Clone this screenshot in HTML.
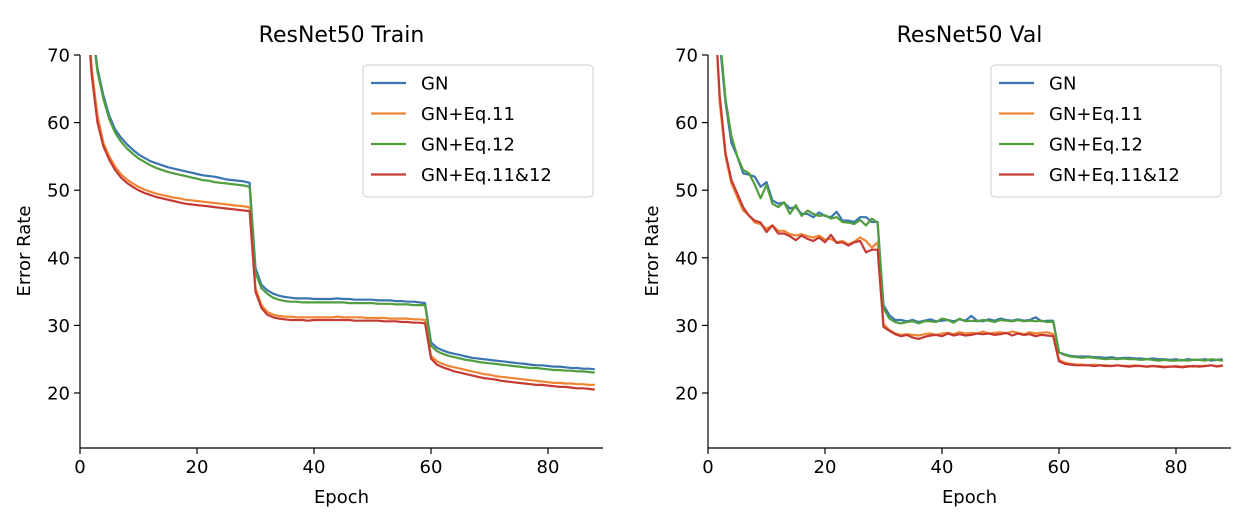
<!DOCTYPE html>
<html><head><meta charset="utf-8"><style>
body{margin:0;background:#fff;width:1242px;height:520px;overflow:hidden}
svg{font-family:"DejaVu Sans","Liberation Sans",sans-serif}
</style></head><body>
<svg id="chart" width="1242" height="520" xmlns="http://www.w3.org/2000/svg"></svg>
<script>
const epochs = Array.from({length:88},(_,i)=>i+1);
const xTicks = [0,20,40,60,80];
const yTicks = [20,30,40,50,60,70];
const seriesNames = ["GN","GN+Eq.11","GN+Eq.12","GN+Eq.11&12"];
const colors = ["#3b75af","#ef8636","#519e3e","#c53a32"];
const trainGN = [85,75,68,64,61,59,57.8,56.8,56,55.3,54.8,54.3,54,53.7,53.4,53.2,53,52.8,52.6,52.4,52.2,52.1,52,51.8,51.6,51.5,51.4,51.3,51.1,38.5,36,35.2,34.7,34.4,34.2,34.1,34,34,34,33.9,33.9,33.9,33.9,34,33.9,33.9,33.8,33.8,33.8,33.8,33.7,33.7,33.7,33.6,33.6,33.5,33.5,33.4,33.3,27.5,26.7,26.3,26,25.8,25.6,25.4,25.2,25.1,25,24.9,24.8,24.7,24.6,24.5,24.4,24.3,24.2,24.1,24.1,24,23.9,23.9,23.8,23.7,23.7,23.6,23.6,23.5];
const trainEq11 = [80,68,61,57,55,53.5,52.4,51.6,51,50.5,50.1,49.8,49.5,49.3,49.1,48.9,48.8,48.6,48.5,48.4,48.3,48.2,48.1,48,47.9,47.8,47.7,47.6,47.5,35.5,33,32,31.6,31.4,31.3,31.3,31.2,31.2,31.2,31.2,31.2,31.2,31.2,31.3,31.2,31.2,31.2,31.2,31.1,31.1,31.1,31.1,31,31,31,31,30.9,30.9,30.8,25.5,24.7,24.3,24,23.8,23.6,23.4,23.2,23,22.8,22.7,22.5,22.4,22.3,22.2,22.1,22,21.9,21.8,21.7,21.6,21.5,21.5,21.4,21.4,21.3,21.3,21.2,21.2];
const trainEq12 = [85,74.5,67.5,63.5,60.5,58.5,57.2,56.2,55.4,54.7,54.2,53.7,53.3,53,52.7,52.5,52.3,52.1,51.9,51.7,51.5,51.4,51.2,51.1,51,50.9,50.8,50.7,50.5,37.8,35.5,34.7,34.1,33.8,33.6,33.5,33.5,33.4,33.4,33.4,33.4,33.4,33.4,33.4,33.4,33.3,33.3,33.3,33.3,33.3,33.2,33.2,33.2,33.1,33.1,33.1,33,33,33,27,26.2,25.8,25.5,25.3,25.1,24.9,24.8,24.6,24.5,24.4,24.3,24.2,24.1,24,23.9,23.8,23.7,23.7,23.6,23.5,23.4,23.4,23.3,23.3,23.2,23.2,23.1,23];
const trainEq1112 = [79,67,60,56.5,54.5,53,51.9,51.1,50.5,50,49.6,49.3,49,48.8,48.6,48.4,48.2,48,47.9,47.8,47.7,47.6,47.5,47.4,47.3,47.2,47.1,47,46.9,35,32.6,31.6,31.2,31,30.9,30.8,30.8,30.8,30.7,30.8,30.8,30.8,30.8,30.8,30.8,30.8,30.7,30.7,30.7,30.7,30.7,30.6,30.6,30.6,30.5,30.5,30.4,30.4,30.3,25.1,24.2,23.8,23.5,23.2,23,22.8,22.6,22.4,22.2,22.1,22,21.8,21.7,21.6,21.5,21.4,21.3,21.2,21.2,21.1,21,20.9,20.9,20.8,20.7,20.7,20.6,20.5];
const valGN = [85,72,63,57,55,52.5,52.3,52,50.5,51.2,48.5,48,48.2,47.3,47.5,46.5,46.5,46,46.7,46.2,46,46.8,45.5,45.5,45.3,46,46,45.3,45.3,33,31.5,30.8,30.8,30.6,30.8,30.5,30.7,30.9,30.6,30.7,30.8,30.6,30.9,30.7,31.4,30.7,30.6,30.9,30.7,31,30.8,30.7,30.9,30.7,30.8,31.2,30.6,30.7,30.7,26,25.7,25.5,25.4,25.4,25.4,25.3,25.3,25.2,25.3,25.1,25.2,25.2,25.1,25.1,25,25.1,25,25,24.9,25,24.8,25,24.9,24.9,25,24.8,24.9,25];
const valEq11 = [80,63,55,51,49,47,46.3,45.2,45,44.3,44.8,44,44,43.5,43.3,43.5,43.2,43,43.3,42.7,42.8,42.3,42.5,42,42.4,43,42.5,41.5,42.3,30.2,29.3,28.8,28.6,28.7,28.6,28.5,28.7,28.8,28.6,28.8,28.9,28.7,29,28.8,28.9,28.8,29.1,28.8,28.9,29,28.8,29.1,28.9,28.7,29,28.8,28.9,29,28.7,24.9,24.5,24.3,24.2,24.2,24.1,24.2,24.1,24.1,24,24.1,24,24,24.1,24,23.9,24,24,23.9,23.9,24,23.9,24,23.9,24,24,24.1,24,24];
const valEq12 = [85,73,63.5,58,55,53,52.5,50.8,48.8,50.8,48,47.5,48.2,46.5,47.8,46.2,47,46.5,46.2,46.3,45.8,46,45.3,45.2,45,45.6,44.8,45.8,45.2,32.5,31,30.5,30.3,30.5,30.6,30.3,30.6,30.6,30.5,31,30.8,30.4,31,30.6,30.7,30.6,30.8,30.7,30.5,30.8,30.7,30.6,30.8,30.6,30.7,30.6,30.7,30.5,30.6,26,25.6,25.4,25.3,25.2,25.3,25.2,25.1,25,25.1,25,25.1,25,25,24.9,25,24.9,24.8,24.9,24.8,24.8,24.9,24.8,24.9,24.9,24.8,25,24.9,24.8];
const valEq1112 = [79,64,55.5,51.5,49.5,47.5,46.2,45.5,45.2,43.8,44.8,43.6,43.6,43.2,42.6,43.3,42.8,42.5,43,42.3,43.4,42.2,42.3,41.8,42.3,42.5,40.8,41.2,41.2,29.8,29.2,28.7,28.4,28.6,28.2,28,28.3,28.5,28.6,28.4,28.8,28.5,28.7,28.5,28.6,28.8,28.7,28.8,28.6,28.7,28.9,28.5,28.8,28.6,28.7,28.4,28.6,28.5,28.4,24.7,24.3,24.2,24.1,24.1,24.1,24,24.1,24,24,24.1,24,23.9,24,24,23.9,24,23.9,23.8,23.9,23.9,23.8,23.9,24,23.9,24,24.1,23.9,24.1];

const NS="http://www.w3.org/2000/svg";
const svg=document.getElementById('chart');
function mk(tag,attrs,parent){const e=document.createElementNS(NS,tag);for(const k in attrs)e.setAttribute(k,attrs[k]);(parent||svg).appendChild(e);return e;}

function drawPanel(p){
  const x0=p.left, xs=5.85, yTop=55, yBot=448, ys=6.76;
  const X=v=>x0+v*xs, Y=v=>393-(v-20)*ys;
  const xEnd=p.right;
  const g=mk('g',{});
  
  
  const cid='clip'+p.id;
  const cp=mk('clipPath',{id:cid},g);mk('rect',{x:x0,y:yTop,width:xEnd-x0,height:yBot-yTop},cp);
  // series
  p.series.forEach((s,i)=>{
    const d=s.map((v,j)=>(j?'L':'M')+X(epochs[j]).toFixed(1)+' '+Y(v).toFixed(1)).join(' ');
    const path=mk('path',{d:d,fill:'none',stroke:colors[i],'stroke-width':2.2,'clip-path':'url(#'+cid+')','stroke-linejoin':'round'},g);
    
    
  });
  // axes
  const ax=mk('line',{x1:x0,y1:yTop,x2:x0,y2:yBot,stroke:'#000','stroke-width':1.2},g);
  
  const bx=mk('line',{x1:x0,y1:yBot,x2:xEnd,y2:yBot,stroke:'#000','stroke-width':1.2},g);
  
  xTicks.forEach(t=>{
    mk('line',{x1:X(t),y1:yBot,x2:X(t),y2:yBot+6,stroke:'#000','stroke-width':1.2},g);
    const tx=mk('text',{x:X(t),y:yBot+25,'font-size':18,'text-anchor':'middle'},g);tx.textContent=t;
    
  });
  yTicks.forEach(t=>{
    mk('line',{x1:x0-6,y1:Y(t),x2:x0,y2:Y(t),stroke:'#000','stroke-width':1.2},g);
    const tx=mk('text',{x:x0-10,y:Y(t)+6.5,'font-size':18,'text-anchor':'end'},g);tx.textContent=t;
    
  });
  const xt=mk('text',{x:(x0+xEnd)/2,y:503,'font-size':18,'text-anchor':'middle'},g);xt.textContent='Epoch';
  
  const yt=mk('text',{x:0,y:0,'font-size':18,'text-anchor':'middle',transform:`translate(${x0-50},251) rotate(-90)`},g);yt.textContent='Error Rate';
  
  const tt=mk('text',{x:(x0+xEnd)/2,y:42,'font-size':22,'text-anchor':'middle'},g);tt.textContent=p.title;
  
  // legend
  const lg=mk('g',{},g);
  
  mk('rect',{x:p.legX,y:65,width:230,height:132,rx:4,fill:'#fff',stroke:'#ccc','stroke-width':1},lg);
  seriesNames.forEach((n,i)=>{
    const yy=83+i*30.5;
    const e=mk('g',{},lg);
    
    mk('line',{x1:p.legX+8,y1:yy,x2:p.legX+43,y2:yy,stroke:colors[i],'stroke-width':2.2},e);
    const t=mk('text',{x:p.legX+58,y:yy+6.5,'font-size':18},e);t.textContent=n;
  });
}
drawPanel({id:1,name:'train-panel',title:'ResNet50 Train',left:80,right:603,legX:363,series:[trainGN,trainEq11,trainEq12,trainEq1112]});
drawPanel({id:2,name:'val-panel',title:'ResNet50 Val',left:708,right:1231,legX:991,series:[valGN,valEq11,valEq12,valEq1112]});
</script>
</body></html>
